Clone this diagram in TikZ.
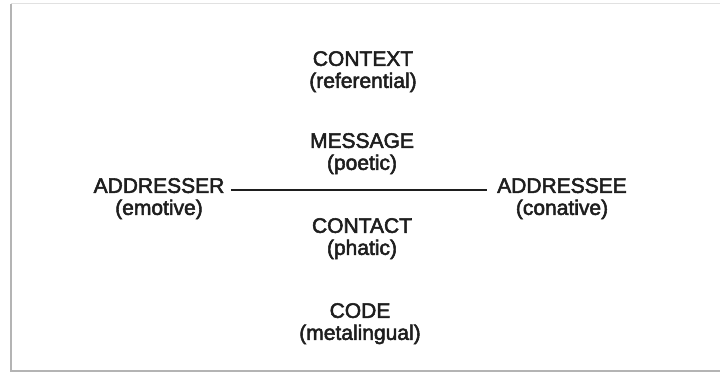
\documentclass[tikz,border=0pt]{standalone}
\usepackage{fontspec}
\setmainfont{Liberation Sans}
\newfontfamily\wordfont{Liberation Sans}[FakeBold=2.5]
\usepackage{tikz}
\definecolor{inkgray}{HTML}{1E1E1E}
\definecolor{framegray}{HTML}{B4B4B4}
\tikzset{funcnode/.style={align=center, text=inkgray, font=\fontsize{21}{22}\wordfont}}

\begin{document}
\begin{tikzpicture}[x=1pt, y=1pt]
\useasboundingbox (0,0) rectangle (720,375);
\clip (0,0) rectangle (720,375);

% frame
\draw [framegray, line width=1.5pt] (11,371) -- (11,4) -- (730,4);
\draw [framegray!40, line width=1pt] (11,371) -- (730,371);

% nodes
\node [style = funcnode] (context) at (363, 303.3) {CONTEXT\\(referential)};
\node [style = funcnode] (message) at (362, 221.3) {MESSAGE\\(poetic)};
\node [style = funcnode] (addresser) at (159, 176.3) {ADDRESSER\\(emotive)};
\node [style = funcnode] (addressee) at (562, 176.3) {ADDRESSEE\\(conative)};
\node [style = funcnode] (contact) at (362, 136.3) {CONTACT\\(phatic)};
\node [style = funcnode] (code) at (360, 51.3) {CODE\\(metalingual)};

%  edges
\draw [inkgray, line width=1.6pt, shorten <=3pt, shorten >=7pt]
  ([yshift=8.7pt]addresser.east) to ([yshift=8.7pt]addressee.west);
\end{tikzpicture}
\end{document}
